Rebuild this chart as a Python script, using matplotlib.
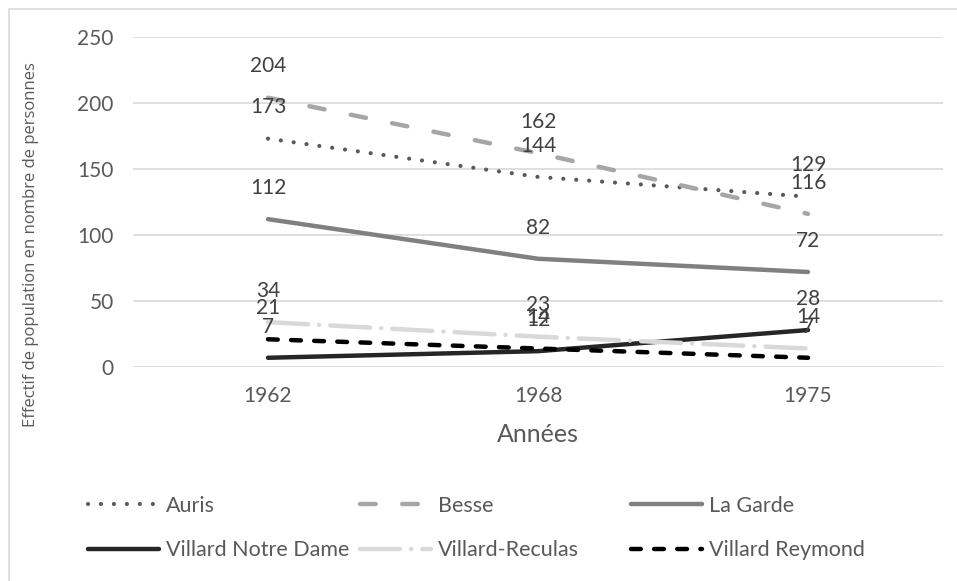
import matplotlib.pyplot as plt
from matplotlib.patches import Rectangle

plt.rcParams['font.family'] = ['Lato', 'DejaVu Sans']

# data
years = ['1962', '1968', '1975']
communes = ['Auris', 'Besse', 'La Garde', 'Villard Notre Dame',
            'Villard-Reculas', 'Villard Reymond']
auris = [173, 144, 129]
besse = [204, 162, 116]
la_garde = [112, 82, 72]
villard_nd = [7, 12, 28]
villard_reculas = [34, 23, 14]
villard_reymond = [21, 14, 7]
series = [auris, besse, la_garde, villard_nd, villard_reculas, villard_reymond]

# styles: colour, dash pattern (in units of line width), width
styles = [
    ('#595959', (0.01, 3.1), 3.0),
    ('#A6A6A6', (3.5, 6.0), 3.2),
    ('#808080', None, 3.2),
    ('#262626', None, 3.2),
    ('#D9D9D9', (9.0, 2.5, 0.01, 2.5), 3.2),
    ('#000000', (2.2, 3.0), 3.2),
]
txt = '#595959'

fig = plt.figure(figsize=(9.57, 5.81), dpi=100)
ax = fig.add_axes([133 / 957, 1 - 367 / 581, 810 / 957, 330 / 581])

x = range(len(years))
handles = []
for name, vals, (col, dash, lw) in zip(communes, series, styles):
    ln, = ax.plot(x, vals, color=col, lw=lw, solid_capstyle='round',
                  dash_capstyle='round', label=name)
    if dash is not None:
        ln.set_dashes(dash)
    handles.append(ln)
    for xi, v in zip(x, vals):
        ax.annotate(str(v), (xi, v), xytext=(0, 22.5), textcoords='offset points',
                    ha='center', va='center', fontsize=15, color='#404040')

ax.set_xlim(-0.5, 2.5)
ax.set_ylim(0, 250)
ax.set_yticks(range(0, 251, 50))
ax.set_xticks(list(x))
ax.set_xticklabels(years)
ax.grid(axis='y', color='#D9D9D9', lw=1.2)
ax.set_axisbelow(True)
for s in ax.spines.values():
    s.set_visible(False)
ax.tick_params(length=0, labelsize=15, labelcolor=txt)
ax.tick_params(axis='y', pad=14)
ax.tick_params(axis='x', pad=14)
ax.set_xlabel('Années', fontsize=18, color=txt, labelpad=12)
ax.set_ylabel('Effectif de population en nombre de personnes', fontsize=12,
              color=txt, family=['Open Sans', 'DejaVu Sans'])
ax.yaxis.set_label_coords(-0.116, 0.37)

# legend, three columns laid out row by row
cols_x = [88, 360, 631]
for i, cx in enumerate(cols_x):
    fig.legend(handles=[handles[i], handles[i + 3]], loc='upper left',
               bbox_to_anchor=(cx / 957, 1 - 496 / 581), frameon=False,
               fontsize=15.5, labelcolor=txt, handlelength=3.3, handletextpad=0.33,
               labelspacing=1.12, borderpad=0, borderaxespad=0)

fig.patches.append(Rectangle((9 / 957, -0.1), 1.2, 1 - 9 / 581 + 0.1,
                             transform=fig.transFigure, fill=False,
                             edgecolor='#D9D9D9', lw=1.2))

fig.savefig('out.png', dpi=100)
